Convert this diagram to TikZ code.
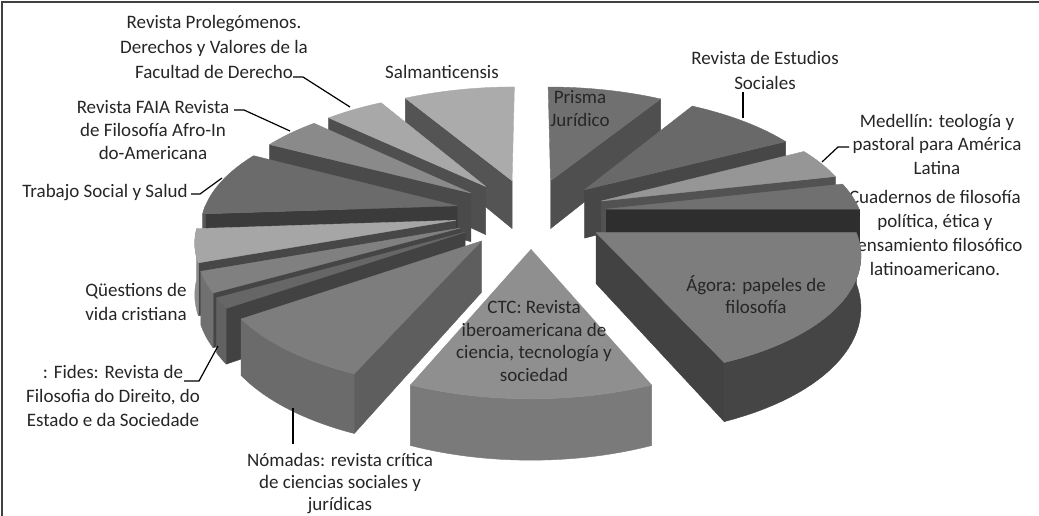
\documentclass[tikz,border=0pt]{standalone}
\usepackage{fontspec}
\setmainfont{Carlito}
\newcommand\pieTop[4]{\fill[#4,draw=#4,line width=0.4pt,line join=round] ({PX(#3,0,0)},{PY(#3,0,0,0)}) -- plot[domain=#1:#2,samples=40] ({PX(#3,1,\x)},{PY(#3,1,\x,0)}) -- cycle;}
\newcommand\pieCut[3]{\fill[#3,draw=#3,line width=0.4pt,line join=round] ({PX(#2,0,0)},{PY(#2,0,0,0)}) -- ({PX(#2,1,#1)},{PY(#2,1,#1,0)}) -- ({PX(#2,1,#1)},{PY(#2,1,#1,1)}) -- ({PX(#2,0,0)},{PY(#2,0,0,1)}) -- cycle;}
\newcommand\pieRim[4]{\fill[#4,draw=#4,line width=0.4pt,line join=round] plot[domain=#1:#2,samples=30] ({PX(#3,1,\x)},{PY(#3,1,\x,0)}) -- plot[domain=#2:#1,samples=30] ({PX(#3,1,\x)},{PY(#3,1,\x,1)}) -- cycle;}
\begin{document}
\begin{tikzpicture}[x=1pt,y=-1pt,
  declare function={
    PW(\qm,\qr,\qt)=1+0.145*(0.3*sin(\qm)+\qr*sin(\qt));
    PX(\qm,\qr,\qt)=531+254*(0.3*cos(\qm)+\qr*cos(\qt))/PW(\qm,\qr,\qt);
    PY(\qm,\qr,\qt,\qb)=213+(-116*(0.3*sin(\qm)+\qr*sin(\qt))+\qb*49.8)/PW(\qm,\qr,\qt);
  },
  lbl/.style={font=\fontsize{19}{23.5}\selectfont, text=black!85, align=center, inner sep=0pt},
  leader/.style={draw=black, line width=1.2pt},
  frameline/.style={draw=black!75, line width=1.5pt}
]
\useasboundingbox (0,0) rectangle (1039,516);
\fill[white] (0,0) rectangle (1039,516);
% frame
\coordinate (fBL) at (2,516);
\coordinate (fTL) at (2,2);
\coordinate (fTR) at (1039,2);
\draw[frameline] (fBL) -- (fTL) -- (fTR);

% outside labels (behind the pie)
\node[lbl, font=\fontsize{19}{25}\selectfont] (prol) at (214,47) {Revista Prolegómenos.\\Derechos y Valores de la\\Facultad de Derecho};
\node[lbl] (salm) at (442,72) {Salmanticensis};
\node[lbl, font=\fontsize{19}{23}\selectfont] (faia) at (153,130) {Revista FAIA Revista\\de Filosofía Afro-In\\do-Americana};
\node[lbl] (trab) at (105,193) {Trabajo Social y Salud};
\node[lbl, font=\fontsize{19}{24}\selectfont] (ques) at (136,302) {Qüestions de\\vida cristiana};
\node[lbl, font=\fontsize{19}{24}\selectfont] (fides) at (113,396) {: Fides: Revista de\\Filosofia do Direito, do\\Estado e da Sociedade};
\node[lbl, font=\fontsize{19}{22}\selectfont] (nomadas) at (340,484) {Nómadas: revista crítica\\de ciencias sociales y\\jurídicas};
\node[lbl, font=\fontsize{19}{25}\selectfont] (revista) at (765,70) {Revista de Estudios\\Sociales};
\node[lbl, font=\fontsize{19}{23.5}\selectfont] (medellin) at (937,144) {Medellín: teología y\\pastoral para América\\Latina};
\node[lbl, font=\fontsize{19}{23.7}\selectfont] (cuad) at (935,233) {Cuadernos de filosofía\\política, ética y\\pensamiento filosófico\\latinoamericano.};

% pie slices, back to front
% Salmanticensis [90,120]
\pieCut{120}{105}{black!67}
\pieTop{90}{120}{105}{black!33}
% Prisma [59,90]
\pieCut{59}{74.5}{black!69}
\pieTop{59}{90}{74.5}{black!56}
% Prolegomenos [120,136]
\pieCut{136}{128}{black!69}
\pieTop{120}{136}{128}{black!34}
% Revista de Estudios Sociales [28,59]
\pieCut{28}{43.5}{black!72}
\pieTop{28}{59}{43.5}{black!59}
% FAIA [136,152]
\pieCut{152}{144}{black!71}
\pieTop{136}{152}{144}{black!46}
% Medellin [13,28]
\pieCut{13}{20.5}{black!68}
\pieTop{13}{28}{20.5}{black!41}
% Trabajo Social [152,184]
\pieCut{184}{168}{black!77}
\pieRim{180}{184}{168}{black!65}
\pieTop{152}{184}{168}{black!58}
% Cuadernos [0,13]
\pieCut{0}{6.5}{black!82}
\pieTop{0}{13}{6.5}{black!56}
% unlabeled light slice [184,200]
\pieCut{200}{192}{black!72}
\pieRim{184}{200}{192}{black!45}
\pieTop{184}{200}{192}{black!35}
% Questions [200,210]
\pieCut{210}{205}{black!73}
\pieRim{200}{210}{205}{black!56}
\pieTop{200}{210}{205}{black!50}
% Fides [210,215]
\pieCut{215}{212.5}{black!74}
\pieRim{210}{215}{212.5}{black!62}
\pieTop{210}{215}{212.5}{black!60}
% Agora [293,360]
\pieCut{293}{326.5}{black!74}
\pieRim{293}{360}{326.5}{black!73}
\pieTop{293}{360}{326.5}{black!51}
% Nomadas [215,247]
\pieCut{247}{231}{black!63}
\pieRim{215}{247}{231}{black!58}
\pieTop{215}{247}{231}{black!51}
% CTC [247,293]
\pieRim{247}{293}{270}{black!52}
\pieTop{247}{293}{270}{black!44}

% inside labels
\node[lbl, font=\fontsize{19}{23}\selectfont] (prisma) at (580,109) {Prisma\\Jurídico};
\node[lbl, font=\fontsize{19}{22}\selectfont] (agora) at (756,295) {Ágora: papeles de\\filosofía};
\node[lbl, font=\fontsize{19}{22.5}\selectfont] (ctc) at (534,341) {CTC: Revista\\iberoamericana de\\ciencia, tecnología y\\sociedad};

% leader lines
\coordinate (prolA) at (293,77);  \coordinate (prolB) at (303,77);  \coordinate (prolP) at (350,107);
\draw[leader] (prolA) -- (prolB) -- (prolP);
\coordinate (faiaA) at (234,110); \coordinate (faiaB) at (244,110); \coordinate (faiaP) at (290,131);
\draw[leader] (faiaA) -- (faiaB) -- (faiaP);
\coordinate (trabA) at (191,194); \coordinate (trabB) at (200,194); \coordinate (trabP) at (222,178);
\draw[leader] (trabA) -- (trabB) -- (trabP);
\coordinate (fidesA) at (184,381); \coordinate (fidesB) at (199,381); \coordinate (fidesP) at (218,346);
\draw[leader] (fidesA) -- (fidesB) -- (fidesP);
\coordinate (nomA) at (293,444); \coordinate (nomP) at (293,408);
\draw[leader] (nomA) -- (nomP);
\coordinate (revA) at (743,92); \coordinate (revP) at (743,118);
\draw[leader] (revA) -- (revP);
\coordinate (medA) at (849,147); \coordinate (medB) at (838,147); \coordinate (medP) at (822,162);
\draw[leader] (medA) -- (medB) -- (medP);
\end{tikzpicture}
\end{document}
